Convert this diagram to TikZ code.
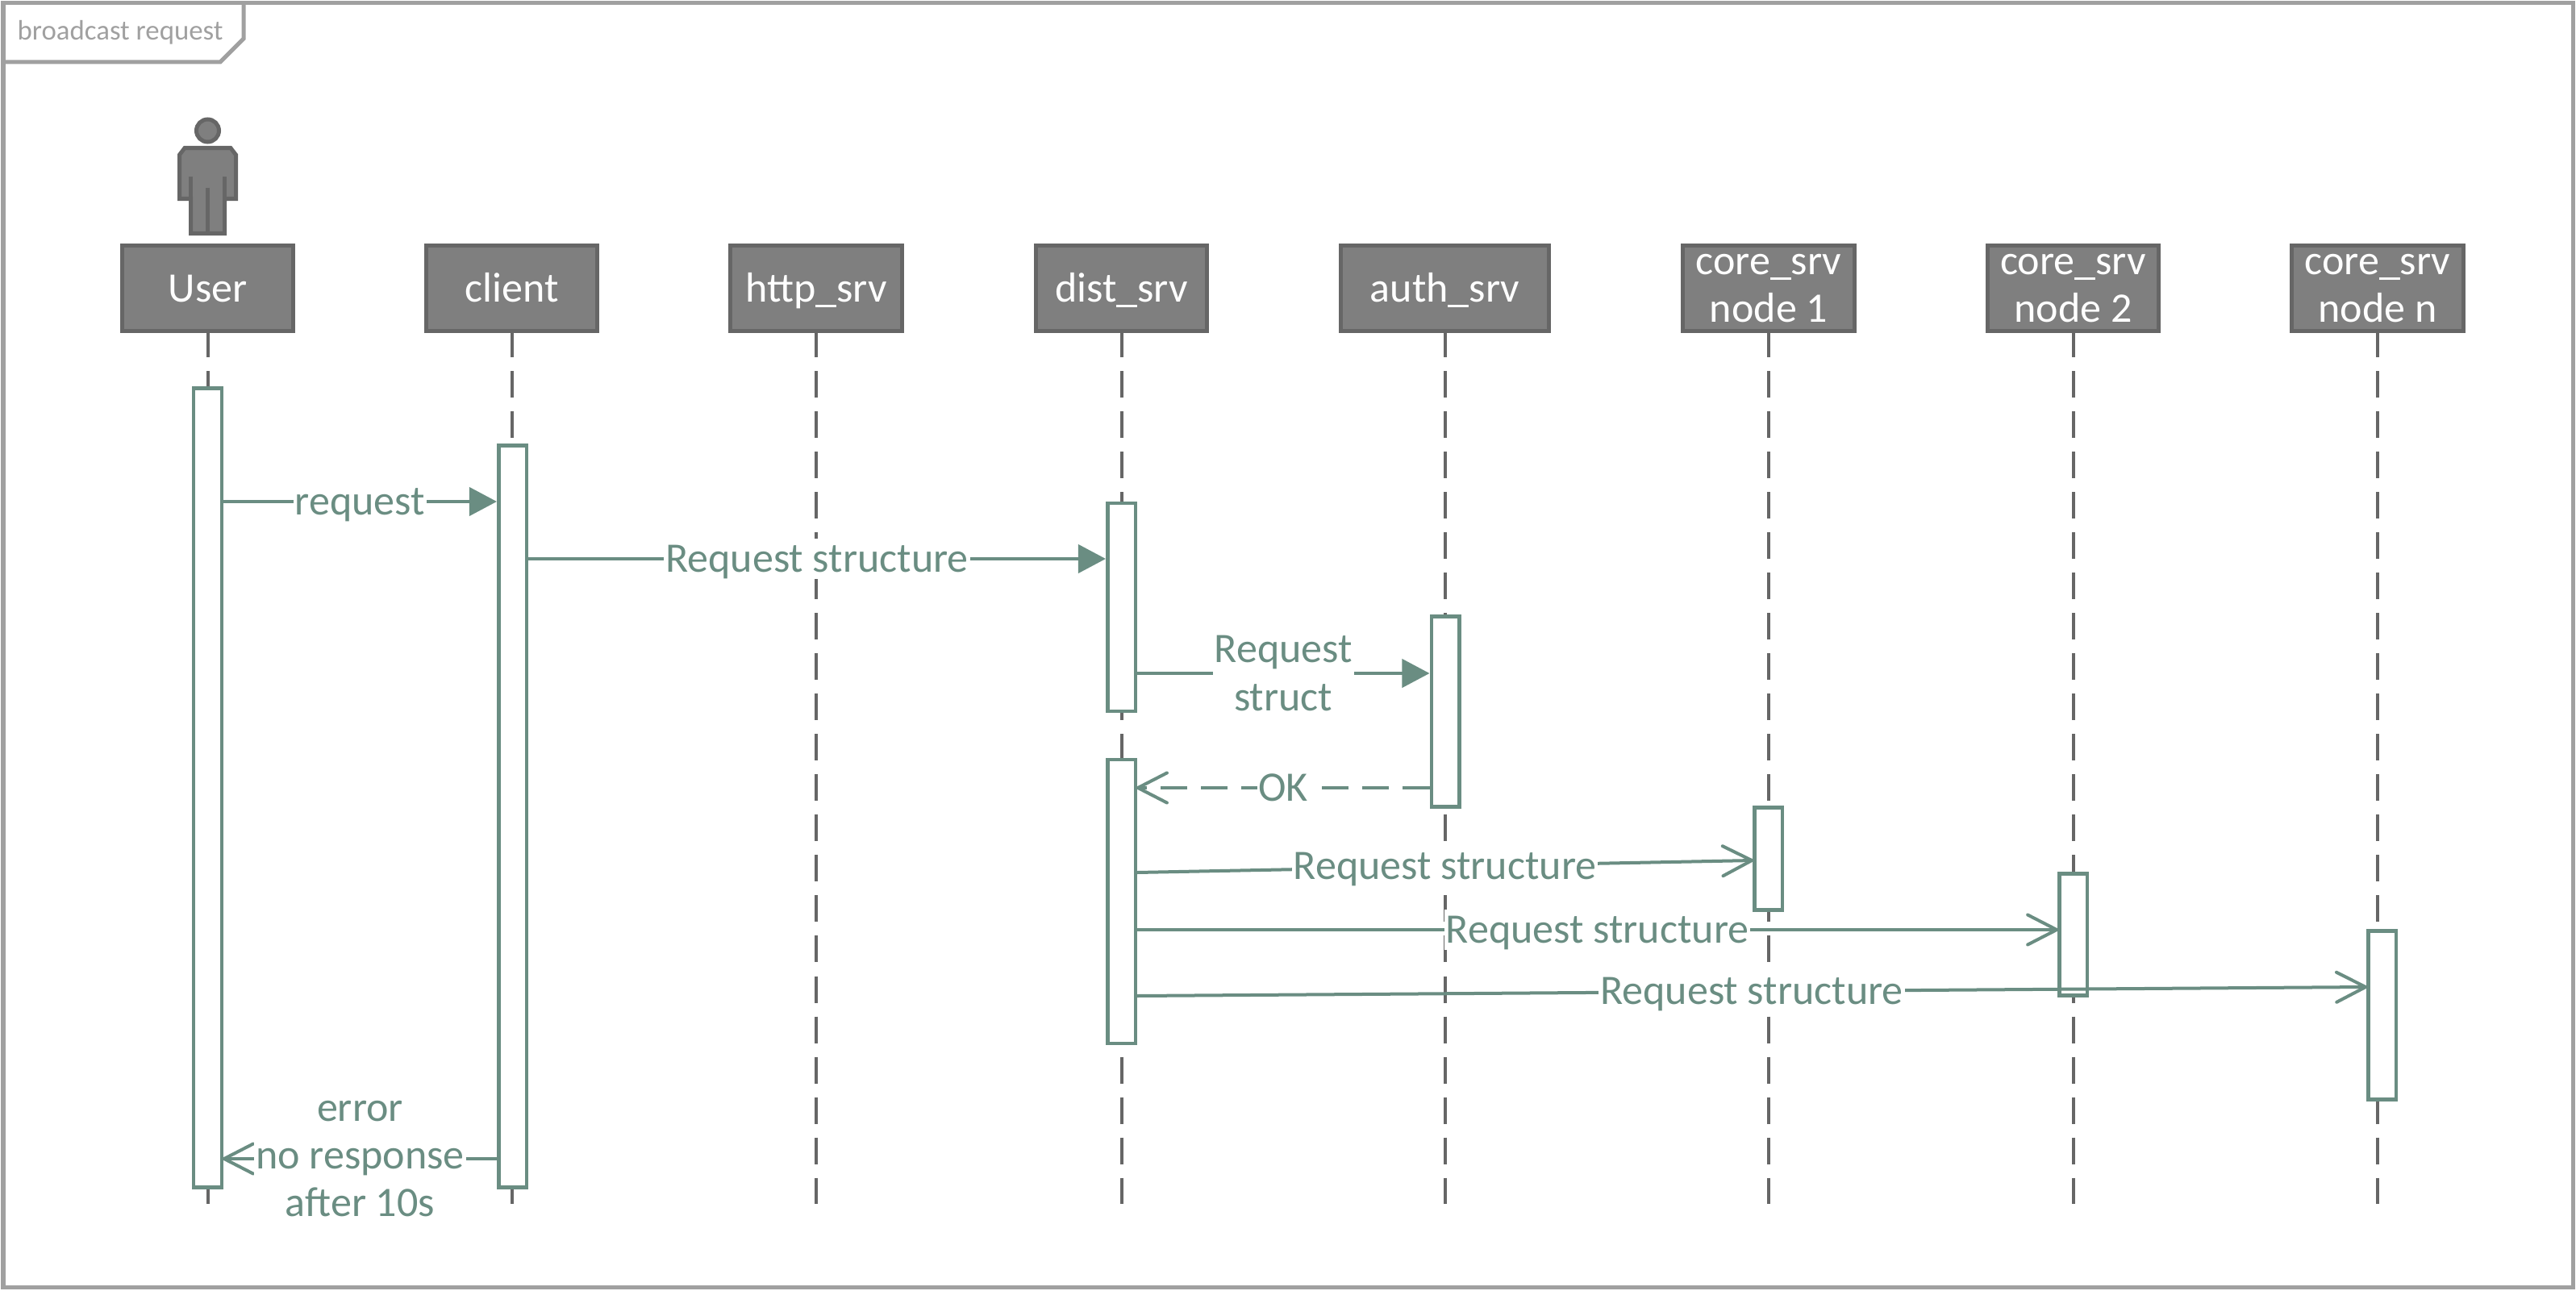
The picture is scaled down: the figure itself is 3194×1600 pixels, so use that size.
\documentclass[tikz,border=0pt]{standalone}
\usepackage{fontspec}
\setmainfont{Carlito}
\usetikzlibrary{arrows.meta}
\definecolor{framegray}{HTML}{A0A0A0}
\definecolor{headgray}{HTML}{7F7F7F}
\definecolor{edgegray}{HTML}{666666}
\definecolor{msggreen}{HTML}{6A8D82}

\begin{document}
\begin{tikzpicture}[x=0.01cm,y=-0.01cm]
\tikzstyle{frame}=[draw=framegray,line width=0.05cm]
\tikzstyle{head}=[rectangle,draw=edgegray,fill=headgray,line width=0.05cm,text=white,minimum width=2.12cm,minimum height=1.06cm,inner sep=0pt,align=center,font=\fontsize{14.8pt}{16.8pt}\selectfont]
\tikzstyle{wide}=[minimum width=2.58cm]
\tikzstyle{oneline}=[text height=0.40cm,text depth=0.07cm]
\tikzstyle{life}=[draw=edgegray,line width=0.04cm,dash pattern=on 0.33cm off 0.17cm,dash phase=0.03cm]
\tikzstyle{bar}=[rectangle,draw=msggreen,fill=white,line width=0.045cm,minimum width=0.345cm,inner sep=0pt]
\tikzstyle{sync}=[draw=msggreen,line width=0.04cm,-{Triangle[length=0.34cm,width=0.35cm,fill=msggreen]}]
\tikzstyle{open}=[draw=msggreen,line width=0.04cm,shorten >=-0.035cm,-{Straight Barb[length=0.36cm,width=0.37cm,line cap=round]}]
\tikzstyle{reply}=[open,dash pattern=on 0.33cm off 0.17cm]
\tikzstyle{label}=[fill=white,text=msggreen,inner sep=0.02cm,align=center,font=\fontsize{14.8pt}{16.8pt}\selectfont]
\tikzstyle{short}=[text height=0.39cm,text depth=0.07cm]
\tikzstyle{actor}=[draw=edgegray,fill=headgray,line width=0.05cm,line join=miter]

\useasboundingbox (0,0) rectangle (3194,1600);

\draw[frame] (4,3.5) rectangle (3190,1596.5);
\draw[frame] (4,77) -- (273,77) -- (302,48) -- (302,3.5);
\node[text=framegray,anchor=base west,inner sep=0pt,font=\fontsize{9.9pt}{12pt}\selectfont] (title) at (21,50) {broadcast request};

\node[circle,draw=edgegray,fill=headgray,line width=0.05cm,minimum size=0.28cm,inner sep=0pt] (userHead) at (257.5,162) {};
\draw[actor] (229,183.5) -- (286,183.5) -- (292.5,192) -- (292.5,246.5) -- (278.5,246.5) -- (278.5,289.5) -- (236.5,289.5) -- (236.5,246.5) -- (222.5,246.5) -- (222.5,192) -- cycle;
\draw[actor] (236.5,219) -- (236.5,246.5);
\draw[actor] (278.5,219) -- (278.5,246.5);
\draw[actor] (257.5,233) -- (257.5,289.5);

\node[head,oneline] (user)  at (257.5,357.5) {User};
\node[head,oneline] (client) at (634.5,357.5) {client};
\node[head,oneline] (http)  at (1012,357.5) {http\_srv};
\node[head,oneline] (dist)  at (1390.5,357.5) {dist\_srv};
\node[head,oneline,wide] (auth) at (1791.5,357.5) {auth\_srv};
\node[head] (coreA) at (2193,357.5) {core\_srv\\node 1};
\node[head] (coreB) at (2570.5,357.5) {core\_srv\\node 2};
\node[head] (coreN) at (2948,357.5) {core\_srv\\node n};

% lifelines
\coordinate (lifeEnd) at (0,1493);
\draw[life] (user.south) -- (user.south |- lifeEnd);
\draw[life] (client.south) -- (client.south |- lifeEnd);
\draw[life] (http.south) -- (http.south |- lifeEnd);
\draw[life] (dist.south) -- (dist.south |- lifeEnd);
\draw[life] (auth.south) -- (auth.south |- lifeEnd);
\draw[life] (coreA.south) -- (coreA.south |- lifeEnd);
\draw[life] (coreB.south) -- (coreB.south |- lifeEnd);
\draw[life] (coreN.south) -- (coreN.south |- lifeEnd);

% activations
\node[bar,minimum height=9.90cm] (barUser)   at (257.5,977) {};
\node[bar,minimum height=9.19cm] (barClient) at (635.5,1012.5) {};
\node[bar,minimum height=2.58cm] (barDistA)  at (1390.5,753) {};
\node[bar,minimum height=3.52cm] (barDistB)  at (1390.5,1118) {};
\node[bar,minimum height=2.36cm] (barAuth)   at (1792,882.5) {};
\node[bar,minimum height=1.27cm] (barCoreA)  at (2192.5,1065) {};
\node[bar,minimum height=1.51cm] (barCoreB)  at (2570.5,1159) {};
\node[bar,minimum height=2.09cm] (barCoreN)  at (2953.5,1259) {};

% messages
\coordinate (mReq) at (0,622);
\draw[sync] (barUser.east |- mReq) -- node[label,short] {request} (barClient.west |- mReq);

\coordinate (mStruct) at (0,693);
\draw[sync] (barClient.east |- mStruct) -- node[label,short] {Request structure} (barDistA.west |- mStruct);

\coordinate (mAuth) at (0,835);
\draw[sync] (barDistA.east |- mAuth) -- node[label] {Request\\struct} (barAuth.west |- mAuth);

\coordinate (mOk) at (0,977);
\draw[reply] (barAuth.west |- mOk) -- node[label,short] {OK} (barDistB.east |- mOk);

\coordinate (mCoreAs) at (0,1082);
\coordinate (mCoreAe) at (0,1067);
\draw[open] (barDistB.east |- mCoreAs) -- node[label,short] {Request structure} (barCoreA.west |- mCoreAe);

\coordinate (mCoreB) at (0,1153);
\draw[open] (barDistB.east |- mCoreB) -- node[label,short] {Request structure} (barCoreB.west |- mCoreB);

\coordinate (mCoreNs) at (0,1235);
\coordinate (mCoreNe) at (0,1224);
\draw[open] (barDistB.east |- mCoreNs) -- node[label,short] {Request structure} (barCoreN.west |- mCoreNe);

\coordinate (mErr) at (0,1437);
\draw[open] (barClient.west |- mErr) -- node[label] {error\\no response\\after 10s} (barUser.east |- mErr);

\end{tikzpicture}
\end{document}
